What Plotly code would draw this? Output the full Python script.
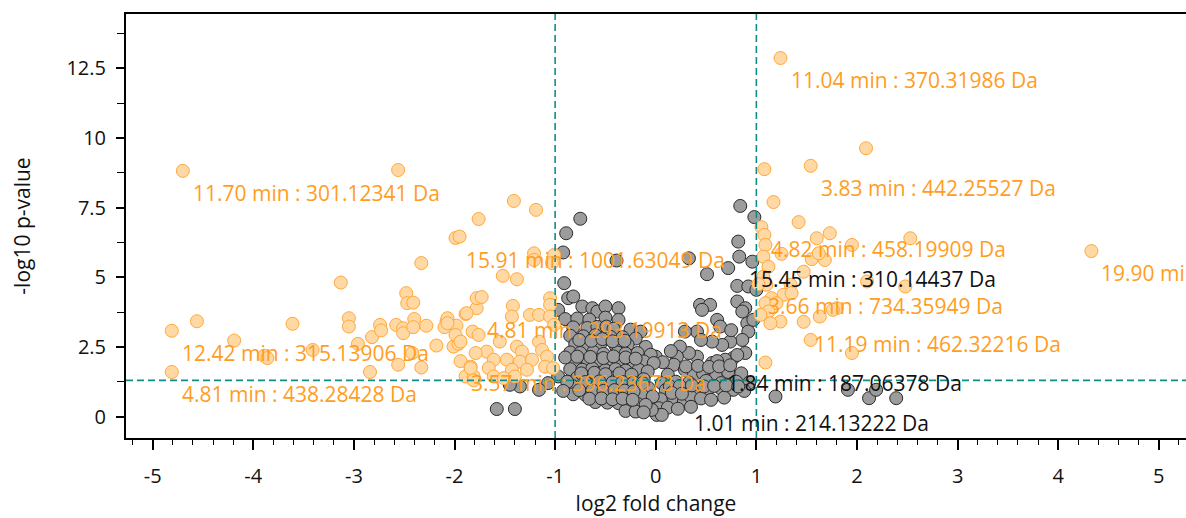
import plotly.graph_objects as go

# ---- data (log2 fold change, -log10 p-value) ----
gray_x = [
    -0.75, -0.89, -0.92, -0.39, -0.91, 0.33, 0.51, 0.72, 0.83, 0.96, 0.84, 0.98, 0.82,
    0.81, 0.92, 1.00, 0.81, 0.89, 0.44, 0.54, 0.46, 0.61, 0.64, 0.91, 0.92, 0.97,
    0.86, 0.74, 0.66, 0.56, 0.41, 0.29, 0.89, 0.77, 0.69, 0.56, 0.41, 0.33, 0.24,
    0.21, 0.00, 0.18, 0.29, 0.38, 0.47, 0.61, 0.60, 0.70, 0.86, 0.75, 0.45, 0.81,
    0.15, 0.07, 0.72, 0.85, 0.12, 0.20, 0.33, 0.50, 0.65, 0.80, 0.93, 0.06,
    0.10, 0.25, 0.40, 0.52, 0.65, 0.77, 0.88, 0.05, 0.18, 0.28, 0.35, 0.45, 0.55,
    0.68, 0.03, 0.12, 0.22, 0.35, 0.01, 0.06, -0.04,
    -0.87, -0.82, -0.73, -0.63, -0.58, -0.97, -0.50, -0.37,
    -0.90, -0.78, -0.66, -0.50, -0.37,
    -0.82, -0.68, -0.58, -0.49, -0.42, -0.25, -0.15,
    -0.85, -0.72, -0.60, -0.45, -0.33, -0.20,
    -0.80, -0.70, -0.55, -0.40, -0.28, -0.10,
    -0.85, -0.75, -0.62, -0.52, -0.38, -0.30, -0.18, -0.05,
    -0.80, -0.67, -0.57, -0.45, -0.35, -0.22, -0.12, -0.02,
    -0.85, -0.73, -0.63, -0.50, -0.40, -0.30, -0.17, -0.08,
    -0.97, -0.78, -0.68, -0.55, -0.45, -0.33, -0.25, -0.12,
    -0.83, -0.72, -0.60, -0.48, -0.38, -0.27, -0.18, -0.07,
    -1.07, -1.16, -1.35, -1.45,
    -0.82, -0.70, -0.58, -0.47, -0.35, -0.25, -0.14, -0.03,
    -0.60, -0.48, -0.37, -0.28, -0.18, -0.10,
    -0.30, -0.20, -0.12, -1.58, -1.40,
    1.19, 1.91, 2.12, 2.19, 2.39,
    -0.76, -0.64, -0.53, -0.43, -0.31, -0.90, -0.78, -0.65, -0.52, -0.42, -0.30, -0.20,
    -0.74, -0.61, -0.50, -0.36, -0.24, -0.88, -0.70, -0.56, -0.43, -0.33, -0.22, -0.13,
    -0.92, -0.76, -0.63, -0.52, -0.41, -0.31, -0.22, -0.66, -0.54, -0.43, -0.33, -0.23,
    0.14, 0.24, 0.36, 0.48, 0.58, 0.70, 0.82, 0.30, 0.42, 0.53, 0.63, 0.74, 0.16, 0.26,
]
gray_y = [
    7.10, 6.58, 5.89, 5.60, 4.79, 5.68, 5.11, 5.33, 5.74, 5.56, 7.56, 7.16, 6.28,
    4.69, 4.67, 4.55, 4.13, 3.89, 4.01, 4.01, 3.83, 3.47, 3.23, 3.35, 3.05, 3.47,
    2.75, 2.69, 2.57, 2.69, 3.05, 3.05, 2.28, 2.10, 2.04, 1.92, 2.15, 2.28, 2.51,
    2.15, 2.15, 1.86, 1.68, 1.50, 1.55, 1.99, 1.45, 1.30, 3.77, 3.10, 2.75, 2.21,
    2.35, 1.95, 1.60, 1.55, 1.50, 1.25, 1.22, 1.28, 1.20, 1.25, 1.22, 1.20,
    0.95, 0.92, 1.00, 0.98, 1.00, 0.96, 0.92, 0.62, 0.66, 0.56, 0.70, 0.65, 0.60,
    0.68, 0.30, 0.32, 0.28, 0.35, 0.06, 0.06, 0.24,
    4.25, 4.31, 3.95, 3.89, 3.77, 3.83, 3.95, 3.89,
    3.50, 3.52, 3.48, 3.55, 3.47,
    3.20, 3.18, 3.22, 3.23, 3.15, 3.12, 3.05,
    2.90, 2.88, 2.92, 2.86, 2.85, 2.80,
    2.60, 2.58, 2.62, 2.55, 2.58, 2.50,
    2.30, 2.28, 2.32, 2.25, 2.30, 2.26, 2.28, 2.22,
    2.00, 1.98, 2.02, 1.96, 2.00, 1.95, 1.98, 1.92,
    1.70, 1.68, 1.72, 1.66, 1.70, 1.65, 1.68, 1.62,
    1.44, 1.40, 1.42, 1.38, 1.40, 1.36, 1.38, 1.34,
    1.10, 1.08, 1.12, 1.06, 1.10, 1.05, 1.08, 1.02,
    1.20, 0.96, 1.08, 1.14,
    0.80, 0.78, 0.82, 0.76, 0.80, 0.75, 0.78, 0.72,
    0.52, 0.50, 0.48, 0.50, 0.45, 0.42,
    0.20, 0.18, 0.15, 0.27, 0.27,
    0.72, 0.96, 0.66, 0.96, 0.66,
    2.75, 2.72, 2.78, 2.70, 2.72, 2.12, 2.15, 2.14, 2.10, 2.16, 2.12, 2.08,
    1.55, 1.57, 1.52, 1.55, 1.50, 1.25, 1.24, 1.26, 1.22, 1.24, 1.22, 1.20,
    0.92, 0.95, 0.94, 0.92, 0.95, 0.93, 0.90, 0.64, 0.65, 0.62, 0.64, 0.60,
    1.08, 1.10, 1.12, 1.08, 1.10, 1.12, 1.08, 1.80, 1.82, 1.78, 1.80, 1.84, 0.85, 0.82,
]

orange_x = [
    -4.70, -2.56, -4.81, -4.56, -4.81, -4.19, -3.89, -3.86, -3.61, -3.41, -3.13,
    -3.05, -3.05, -2.96, -2.82, -2.84, -2.74, -2.73, -2.58, -2.51, -2.51, -2.56,
    -2.48, -2.47, -2.41, -2.40, -2.41, -2.28, -2.33, -2.33, -2.42, -2.18, -2.08,
    -2.10, -1.98, -1.89, -2.01, -1.96, -1.94, -1.84, -1.89, -1.81, -1.78, -1.78,
    -1.82, -1.99, -1.95, -1.41, -1.19, -1.76, -1.21, -1.21, -1.01, -1.03, -1.52,
    -1.38, -1.73, -1.42, -1.88, -1.05, -1.05, -2.07, -1.43, -1.25, -1.16, -1.05,
    -1.01, -1.76, -1.99, -1.94, -1.55, -1.38, -1.33, -1.16, -1.13, -1.08, -1.68,
    -1.79, -1.61, -1.48, -1.35, -1.23, -1.84, -1.66, -1.43, -1.28, -1.10, -1.02,
    -1.81, -1.61, -1.51, -1.40, -2.07,
    1.24, 2.09, 1.54, 1.08, 1.17, 1.42, 1.05, 1.08, 1.09, 1.60, 1.73, 1.95, 2.53,
    1.25, 1.55, 1.68, 1.62, 1.07, 1.12, 1.47, 1.07, 1.34, 1.10, 1.27, 1.35, 1.15,
    1.09, 1.20, 1.80, 2.10, 2.48, 1.12, 1.24, 1.14, 1.47, 1.63, 1.04, 1.54, 1.95,
    1.09, 4.33, 1.76, 1.02,
]
orange_y = [
    8.82, 8.85, 3.08, 3.42, 1.60, 2.73, 2.18, 2.10, 3.33, 2.39, 4.81,
    3.53, 3.23, 2.61, 2.85, 1.60, 3.29, 3.09, 3.29, 3.17, 2.99, 1.86,
    4.43, 4.07, 4.09, 3.50, 3.21, 3.26, 5.51, 1.76, 2.28, 2.55, 3.41,
    3.21, 3.26, 3.68, 2.51, 2.61, 1.99, 1.79, 1.44, 1.44, 3.89, 4.25,
    3.05, 6.41, 6.46, 7.74, 7.42, 7.09, 5.86, 5.62, 5.80, 5.51, 5.05,
    4.93, 4.29, 3.97, 3.71, 4.25, 4.01, 3.53, 3.59, 3.65, 3.65, 3.59,
    3.29, 2.93, 2.93, 2.69, 2.69, 2.51, 2.33, 2.69, 2.39, 2.15, 2.33,
    2.28, 2.04, 2.04, 1.97, 2.04, 1.74, 1.74, 1.68, 1.68, 1.79, 1.74,
    1.30, 1.44, 1.38, 1.44, 3.35,
    12.87, 9.63, 9.00, 8.88, 7.70, 6.98, 6.80, 6.52, 6.16, 6.40, 6.58, 6.16, 6.40,
    5.84, 5.65, 5.62, 5.86, 5.74, 5.38, 5.20, 5.02, 4.73, 4.73, 4.37, 4.43, 4.25,
    4.07, 4.07, 3.89, 4.85, 4.67, 3.77, 3.41, 3.35, 3.40, 3.59, 3.65, 2.75, 2.28,
    1.94, 5.94, 3.83, 4.75,
]

label_text = [
    "11.70 min : 301.12341 Da", "11.04 min : 370.31986 Da", "3.83 min : 442.25527 Da",
    "15.91 min : 1001.63049 Da", "4.82 min : 458.19909 Da", "15.45 min : 310.14437 Da",
    "3.66 min : 734.35949 Da", "4.81 min : 293.19913 Da", "12.42 min : 315.13906 Da",
    "4.81 min : 438.28428 Da", "3.57 min : 396.23673 Da", "1.84 min : 187.06378 Da",
    "1.01 min : 214.13222 Da", "11.19 min : 462.32216 Da", "19.90 min",
]
label_x = [-4.70, 1.24, 1.54, -1.99, 1.05, 0.83, 1.02, -1.78, -4.81, -4.81, -1.94, 0.61, 0.28, 1.47, 4.33]
label_y = [8.82, 12.87, 9.00, 6.41, 6.80, 5.74, 4.75, 3.89, 3.08, 1.60, 1.99, 1.99, 0.56, 3.40, 5.94]
label_sig = [True, True, True, True, True, False, True, True, True, True, True, False, False, True, True]

fc_threshold = [-1, 1]
p_threshold = 1.3

x_ticks = [-5, -4, -3, -2, -1, 0, 1, 2, 3, 4, 5]
x_ticktext = ["-5", "-4", "-3", "-2", "-1", "0", "1", "2", "3", "4", "5"]
y_ticks = [0, 2.5, 5, 7.5, 10, 12.5]
y_ticktext = ["0", "2.5", "5", "7.5", "10", "12.5"]

# ---- styles ----
FONT = "Open Sans"
ORANGE_TXT = "#FF9D1E"
ORANGE_FILL = "#FFD8A4"
ORANGE_LINE = "#FFA83A"
GRAY_FILL = "#9C9C9C"
GRAY_LINE = "#2A2A2A"
TEAL = "#108C8C"

fig = go.Figure()
fig.add_trace(go.Scatter(
    x=gray_x, y=gray_y, mode="markers", cliponaxis=True,
    marker=dict(size=13, color=GRAY_FILL, line=dict(color=GRAY_LINE, width=1)),
    showlegend=False, hoverinfo="x+y"))
fig.add_trace(go.Scatter(
    x=orange_x, y=orange_y, mode="markers", cliponaxis=True,
    marker=dict(size=13, color=ORANGE_FILL, line=dict(color=ORANGE_LINE, width=1)),
    showlegend=False, hoverinfo="x+y"))

for xv in fc_threshold:
    fig.add_shape(type="line", xref="x", yref="paper", x0=xv, x1=xv, y0=0, y1=1,
                  line=dict(color=TEAL, width=1.6, dash="7px,4px"), layer="above")
fig.add_shape(type="line", xref="paper", yref="y", x0=0, x1=1, y0=p_threshold, y1=p_threshold,
              line=dict(color=TEAL, width=1.6, dash="7px,4px"), layer="above")

for t, lx, ly, s in zip(label_text, label_x, label_y, label_sig):
    fig.add_annotation(x=lx, y=ly, text=t, showarrow=False, xanchor="left", yanchor="middle",
                       xshift=8, yshift=-22,
                       font=dict(family=FONT, size=21, color=ORANGE_TXT if s else "#111111"))

fig.update_layout(
    width=1186, height=518, autosize=False,
    margin=dict(l=126, r=0, t=14, b=80, autoexpand=False),
    plot_bgcolor="white", paper_bgcolor="white",
    font=dict(family=FONT, size=20, color="#1a1a1a"),
)
fig.update_xaxes(
    range=[-5.265, 5.27], showgrid=False, zeroline=False, automargin=False,
    showline=True, linecolor="black", linewidth=2, mirror=True,
    ticks="outside", ticklen=10, tickwidth=1.5, tickcolor="black",
    tickvals=x_ticks, ticktext=x_ticktext, ticklabelstandoff=9,
    tickfont=dict(family=FONT, size=20, color="#111111"),
    minor=dict(dtick=0.2, tick0=0, ticks="outside", ticklen=5, tickwidth=1.2, tickcolor="black"),
    title=dict(text="log2 fold change", font=dict(family=FONT, size=21, color="#111111"), standoff=6),
)
fig.update_yaxes(
    range=[-0.77, 14.45], showgrid=False, zeroline=False, automargin=False,
    showline=True, linecolor="black", linewidth=2,
    ticks="outside", ticklen=8, tickwidth=1.5, tickcolor="black",
    tickvals=y_ticks, ticktext=y_ticktext, ticklabelstandoff=6,
    tickfont=dict(family=FONT, size=20, color="#111111"),
    minor=dict(dtick=1.25, tick0=0, ticks="outside", ticklen=7, tickwidth=1.2, tickcolor="black"),
    title=dict(text="-log10 p-value", font=dict(family=FONT, size=21, color="#111111"), standoff=30),
)

fig.write_html("out.html", config={"displayModeBar": False},
               post_script="document.body.style.margin='0px';")
